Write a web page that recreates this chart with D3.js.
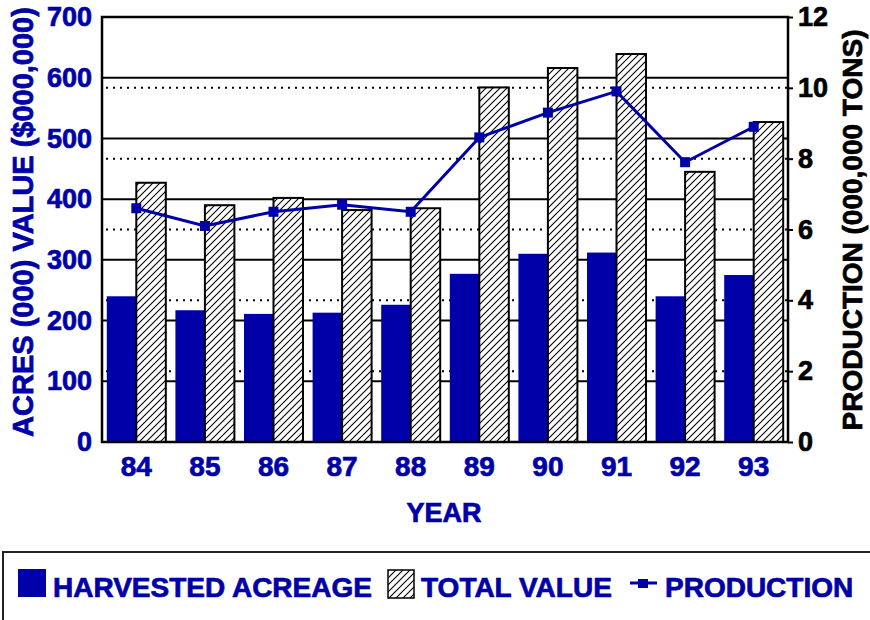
<!DOCTYPE html>
<html>
<head>
<meta charset="utf-8">
<script src="https://cdn.jsdelivr.net/npm/d3@7/dist/d3.min.js"></script>
<style>
  html, body { margin: 0; padding: 0; background: #fff; }
  svg { display: block; }
  text { font-family: "Liberation Sans", Arial, Helvetica, sans-serif; font-weight: bold; }
</style>
</head>
<body>
<svg id="chart" width="870" height="620"></svg>
<script>
const years = ["84", "85", "86", "87", "88", "89", "90", "91", "92", "93"];
const acreage = [240, 217, 211, 213, 226, 277, 310, 312, 240, 275];
const totalValue = [427, 390, 402, 382, 385, 584, 616, 639, 445, 527];
const production = [6.6, 6.1, 6.5, 6.7, 6.5, 8.6, 9.3, 9.9, 7.9, 8.9];
const leftTicks = [0, 100, 200, 300, 400, 500, 600, 700];
const rightTicks = [0, 2, 4, 6, 8, 10, 12];
const seriesNames = ["HARVESTED ACREAGE", "TOTAL VALUE", "PRODUCTION"];

const BLUE = "#0000A8";
const svg = d3.select("#chart");

const plot = { left: 102, right: 788, top: 17, bottom: 442 };

const x = d3.scaleBand().domain(years).range([plot.left, plot.right]).padding(0);
const yL = d3.scaleLinear().domain([0, 700]).range([plot.bottom, plot.top]);
const yR = d3.scaleLinear().domain([0, 12]).range([plot.bottom, plot.top]);
const barW = x.bandwidth() * 0.43;
const cx = d => x(d) + x.bandwidth() / 2;

// hatch pattern
const defs = svg.append("defs");
const pat = defs.append("pattern").attr("id", "hatch")
  .attr("patternUnits", "userSpaceOnUse").attr("width", 7).attr("height", 7);
pat.append("rect").attr("width", 7).attr("height", 7).attr("fill", "#fff");
pat.append("path").attr("d", "M-1,1 L1,-1 M0,7 L7,0 M6,8 L8,6")
  .attr("stroke", "#000").attr("stroke-width", 1.1);

// solid gridlines (left axis)
svg.append("g").selectAll("line").data(leftTicks.filter(t => t > 0 && t < 700)).join("line")
  .attr("x1", plot.left).attr("x2", plot.right)
  .attr("y1", d => yL(d)).attr("y2", d => yL(d))
  .attr("stroke", "#000").attr("stroke-width", 2);

// dotted gridlines (right axis)
svg.append("g").selectAll("line").data(rightTicks.filter(t => t > 0 && t < 12)).join("line")
  .attr("x1", plot.left + 4).attr("x2", plot.right)
  .attr("y1", d => yR(d)).attr("y2", d => yR(d))
  .attr("stroke", "#000").attr("stroke-width", 2)
  .attr("stroke-dasharray", "2,5");

// acreage bars
svg.append("g").selectAll("rect").data(years).join("rect")
  .attr("x", (d) => cx(d) - barW)
  .attr("y", (d, i) => yL(acreage[i]))
  .attr("width", barW)
  .attr("height", (d, i) => yL(0) - yL(acreage[i]))
  .attr("fill", BLUE);

// total value bars
svg.append("g").selectAll("rect").data(years).join("rect")
  .attr("x", (d) => cx(d))
  .attr("y", (d, i) => yL(totalValue[i]))
  .attr("width", barW)
  .attr("height", (d, i) => yL(0) - yL(totalValue[i]))
  .attr("fill", "url(#hatch)")
  .attr("stroke", "#000").attr("stroke-width", 2);

// production line
const line = d3.line().x((d, i) => cx(years[i])).y(d => yR(d));
svg.append("path").datum(production).attr("d", line)
  .attr("fill", "none").attr("stroke", BLUE).attr("stroke-width", 3);
svg.append("g").selectAll("rect").data(production).join("rect")
  .attr("x", (d, i) => cx(years[i]) - 5)
  .attr("y", d => yR(d) - 5)
  .attr("width", 10).attr("height", 10)
  .attr("fill", BLUE);

// frame
svg.append("rect").attr("x", plot.left).attr("y", plot.top)
  .attr("width", plot.right - plot.left).attr("height", plot.bottom - plot.top)
  .attr("fill", "none").attr("stroke", "#000").attr("stroke-width", 2.5);

const heavy = (sel, color) => sel.attr("fill", color).attr("stroke", color)
  .attr("stroke-width", 0.7).style("font-family", '"Liberation Sans", Arial, sans-serif')
  .style("font-weight", "bold");

// left axis labels
const axL = svg.append("g").attr("transform", `translate(${plot.left},0)`)
  .call(d3.axisLeft(yL).tickValues(leftTicks).tickSize(0).tickPadding(10));
axL.select(".domain").remove();
heavy(axL.selectAll("text"), BLUE).style("font-size", "27px");

// right axis labels
const axR = svg.append("g").attr("transform", `translate(${plot.right},0)`)
  .call(d3.axisRight(yR).tickValues(rightTicks).tickSize(5).tickPadding(5));
axR.select(".domain").remove();
axR.selectAll("line").attr("stroke", "#000").attr("stroke-width", 2);
heavy(axR.selectAll("text"), "#000").style("font-size", "27px");

// x axis labels
const axX = svg.append("g").attr("transform", `translate(0,${plot.bottom})`)
  .call(d3.axisBottom(x).tickSize(0).tickPadding(14));
axX.select(".domain").remove();
heavy(axX.selectAll("text"), BLUE).style("font-size", "28px");

// axis titles
heavy(svg.append("text").attr("transform", "translate(33,222) rotate(-90)")
  .attr("text-anchor", "middle"), BLUE).style("font-size", "29px")
  .text("ACRES (000) VALUE ($000,000)");
heavy(svg.append("text").attr("transform", "translate(862,230) rotate(-90)")
  .attr("text-anchor", "middle"), "#000").style("font-size", "28px")
  .text("PRODUCTION (000,000 TONS)");
heavy(svg.append("text").attr("x", 444).attr("y", 522)
  .attr("text-anchor", "middle"), BLUE).style("font-size", "27px")
  .text("YEAR");

// legend
const lg = svg.append("g");
lg.append("rect").attr("x", 3).attr("y", 552).attr("width", 900).attr("height", 100)
  .attr("fill", "#fff").attr("stroke", "#222").attr("stroke-width", 2);
lg.append("rect").attr("x", 18).attr("y", 569).attr("width", 28).attr("height", 28)
  .attr("fill", BLUE);
heavy(lg.append("text").attr("x", 53).attr("y", 597), BLUE).style("font-size", "28px")
  .text(seriesNames[0]);
lg.append("rect").attr("x", 388).attr("y", 570).attr("width", 26).attr("height", 28)
  .attr("fill", "url(#hatch)").attr("stroke", "#000").attr("stroke-width", 1.5);
heavy(lg.append("text").attr("x", 421).attr("y", 597), BLUE).style("font-size", "28px")
  .text(seriesNames[1]);
lg.append("line").attr("x1", 630).attr("x2", 657).attr("y1", 583).attr("y2", 583)
  .attr("stroke", BLUE).attr("stroke-width", 3);
lg.append("rect").attr("x", 638).attr("y", 579).attr("width", 10).attr("height", 9)
  .attr("fill", BLUE);
heavy(lg.append("text").attr("x", 665).attr("y", 597), BLUE).style("font-size", "28px")
  .text(seriesNames[2]);
</script>
</body>
</html>
